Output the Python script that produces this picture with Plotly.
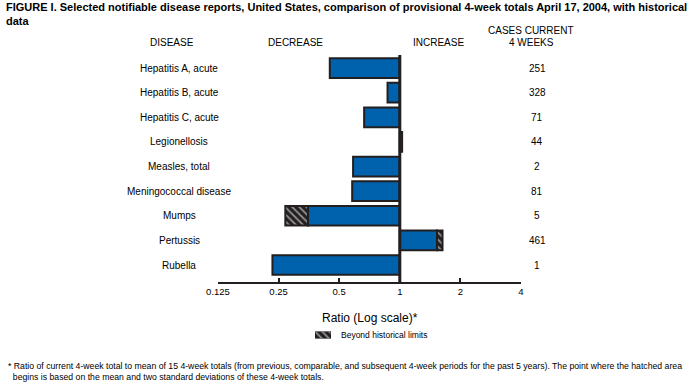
import plotly.graph_objects as go

diseases = ["Hepatitis A, acute", "Hepatitis B, acute", "Hepatitis C, acute", "Legionellosis",
            "Measles, total", "Meningococcal disease", "Mumps", "Pertussis", "Rubella"]
ratio = [0.449, 0.869, 0.665, 1.027, 0.586, 0.58, 0.35, 1.53, 0.233]   # end of solid part
beyond = [None, None, None, None, None, None, 0.27, 1.63, None]       # end of hatched part
cases = ["251", "328", "71", "44", "2", "81", "5", "461", "1"]
tick_vals = [0.125, 0.25, 0.5, 1, 2, 4]
tick_text = ["0.125", "0.25", "0.5", "1", "2", "4"]

BLUE = "#0062ad"
DARK = "#231f20"
FONT = "Liberation Sans"

W, H = 697, 384
L, R, T, B = 218, 521, 55, 282


def fx(xp):
    return xp / W


def fy(yp):
    return 1 - yp / H


ypos = list(range(len(diseases)))
HATCH = dict(shape="\\", fgcolor="white", bgcolor=DARK, size=5, solidity=0.35)

fig = go.Figure()
fig.add_trace(go.Bar(
    y=ypos, x=[r - 1 for r in ratio], base=[1] * len(ratio), orientation="h",
    width=0.8, marker=dict(color=BLUE, line=dict(color=DARK, width=2)),
    showlegend=False, hoverinfo="skip"))

hy, hx, hb = [], [], []
for i, (r, b) in enumerate(zip(ratio, beyond)):
    if b is not None:
        hy.append(i); hb.append(r); hx.append(b - r)
fig.add_trace(go.Bar(
    y=hy, x=hx, base=hb, orientation="h", width=0.8,
    marker=dict(color=DARK, line=dict(color=DARK, width=2), pattern=HATCH),
    showlegend=False, hoverinfo="skip"))

# legend swatch on its own small axes
fig.add_trace(go.Bar(
    y=[0], x=[1], base=[0], orientation="h", width=1, xaxis="x2", yaxis="y2",
    marker=dict(color=DARK, line=dict(color=DARK, width=1), pattern=HATCH),
    showlegend=False, hoverinfo="skip"))

fig.add_shape(type="line", x0=1, x1=1, xref="x", yref="y domain", y0=0, y1=1,
              line=dict(color=DARK, width=3))

for i, d in enumerate(diseases):
    fig.add_annotation(x=fx(179), xref="paper", y=i, yref="y", text=d,
                       showarrow=False, xanchor="center", yanchor="middle",
                       font=dict(size=10, color="black", family=FONT))
for i, c in enumerate(cases):
    fig.add_annotation(x=fx(537), xref="paper", y=i, yref="y", text=c, showarrow=False,
                       xanchor="center", yanchor="middle",
                       font=dict(size=10, color="black", family=FONT))

headers = [("DISEASE", 172, 43), ("DECREASE", 295, 43), ("INCREASE", 438, 43),
           ("CASES CURRENT", 531, 31), ("4 WEEKS", 531, 43)]
for t, x, y in headers:
    fig.add_annotation(x=fx(x), y=fy(y), xref="paper", yref="paper", text=t, showarrow=False,
                       xanchor="center", yanchor="middle", font=dict(size=10, color="black", family=FONT))

fig.add_annotation(x=fx(4), y=fy(14), xref="paper", yref="paper", xanchor="left", yanchor="middle",
                   align="left", showarrow=False,
                   text="<b>FIGURE I. Selected notifiable disease reports, United States, comparison of provisional 4-week totals April 17, 2004, with historical<br>data</b>",
                   font=dict(size=11, color="black", family=FONT))

fig.add_annotation(x=fx(370), y=fy(318), xref="paper", yref="paper", text="Ratio (Log scale)*",
                   showarrow=False, xanchor="center", yanchor="middle",
                   font=dict(size=12, color="black", family=FONT))

fig.add_annotation(x=fx(339), y=fy(335), xref="paper", yref="paper", text="Beyond historical limits",
                   showarrow=False, xanchor="left", yanchor="middle",
                   font=dict(size=8.5, color="black", family=FONT))

fig.add_annotation(x=fx(6), y=fy(371), xref="paper", yref="paper", xanchor="left", yanchor="middle",
                   align="left", showarrow=False,
                   text="* Ratio of current 4-week total to mean of 15 4-week totals (from previous, comparable, and subsequent 4-week periods for the past 5 years). The point where the hatched area<br>  begins is based on the mean and two standard deviations of these 4-week totals.",
                   font=dict(size=8.7, color="black", family=FONT))

fig.update_layout(
    width=W, height=H, margin=dict(l=0, r=0, t=0, b=0, pad=0, autoexpand=False),
    paper_bgcolor="white", plot_bgcolor="white", barmode="overlay",
    font=dict(family=FONT, color="black"), showlegend=False,
    xaxis=dict(type="log", domain=[fx(L), fx(R)], range=[-0.90309, 0.60206],
               tickvals=tick_vals, ticktext=tick_text,
               showgrid=False, zeroline=False, showline=True, linecolor=DARK, linewidth=2,
               ticks="inside", ticklen=4, tickwidth=2, tickcolor=DARK,
               tickfont=dict(size=9.5, color="black", family=FONT)),
    yaxis=dict(domain=[fy(B), fy(T)], range=[8.69, -0.53], visible=False,
               showgrid=False, zeroline=False),
    xaxis2=dict(domain=[fx(315), fx(331)], range=[0, 1], visible=False, anchor="y2"),
    yaxis2=dict(domain=[fy(338.5), fy(331.5)], range=[-0.5, 0.5], visible=False, anchor="x2"),
)

fig.write_html("out.html", config={"displayModeBar": False},
               post_script="document.body.style.margin='0';")
